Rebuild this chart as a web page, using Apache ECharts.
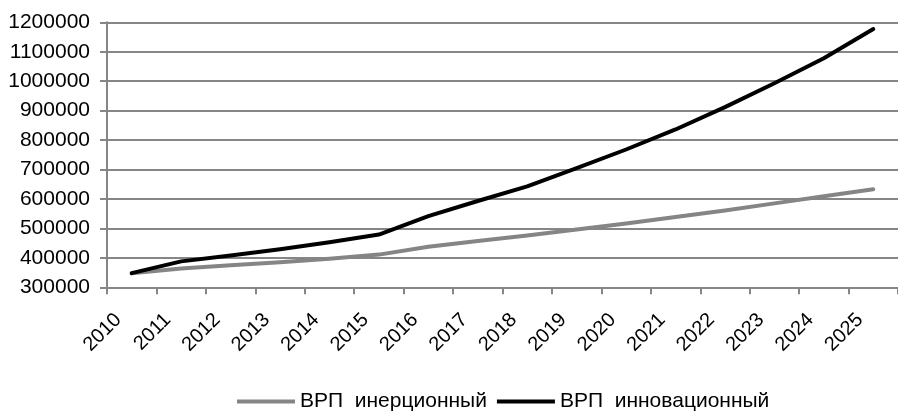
<!DOCTYPE html>
<html>
<head>
<meta charset="utf-8">
<script src="https://cdn.jsdelivr.net/npm/echarts@6/dist/echarts.min.js"></script>
<style>html,body{margin:0;padding:0;background:#fff}#c{width:898px;height:412px}</style>
</head>
<body>
<div id="c"></div>
<script>
const years = ['2010','2011','2012','2013','2014','2015','2016','2017','2018','2019','2020','2021','2022','2023','2024','2025'];
const inertial = [348000,364000,375000,385000,397000,411000,438000,457000,476000,496000,517000,539000,561000,585000,609000,633000];
const innovative = [348000,388000,408000,429000,453000,479000,542000,593000,643000,705000,768000,836000,912000,993000,1078000,1177000];
const seriesNames = ['ВРП  инерционный','ВРП  инновационный'];

const gridColor = '#868686';
const chart = echarts.init(document.getElementById('c'));
chart.setOption({
  animation: false,
  backgroundColor: '#fff',
  textStyle: {fontFamily: 'Liberation Sans, Arial, sans-serif'},
  grid: {left: 107, top: 22.3, width: 800, height: 265},
  legend: {
    left: 232, top: 386,
    itemWidth: 58, itemHeight: 4, itemGap: 10,
    icon: 'rect',
    textStyle: {fontSize: 21, color: '#000', fontFamily: 'Liberation Sans, Arial, sans-serif'},
    data: seriesNames
  },
  xAxis: {
    type: 'category',
    data: years,
    boundaryGap: true,
    axisLine: {lineStyle: {color: gridColor, width: 2}},
    axisTick: {show: true, length: 7, lineStyle: {color: gridColor, width: 2}, alignWithLabel: false},
    axisLabel: {rotate: 45, fontSize: 20, color: '#000', margin: 16, padding: [0, 19, 0, 0], interval: 0}
  },
  yAxis: {
    type: 'value',
    min: 300000, max: 1200000, interval: 100000,
    axisLine: {show: true, lineStyle: {color: gridColor, width: 2}},
    axisTick: {show: true, length: 7, lineStyle: {color: gridColor, width: 2}},
    splitLine: {lineStyle: {color: gridColor, width: 2}},
    axisLabel: {fontSize: 21, color: '#000', margin: 17, formatter: v => String(v)}
  },
  series: [
    {name: seriesNames[0], type: 'line', data: inertial, symbol: 'none',
     lineStyle: {color: '#858585', width: 4, cap: 'round', join: 'round'}, itemStyle: {color: '#858585'}, z: 2},
    {name: seriesNames[1], type: 'line', data: innovative, symbol: 'none',
     lineStyle: {color: '#000', width: 4, cap: 'round', join: 'round'}, itemStyle: {color: '#000'}, z: 3}
  ]
});
</script>
</body>
</html>
